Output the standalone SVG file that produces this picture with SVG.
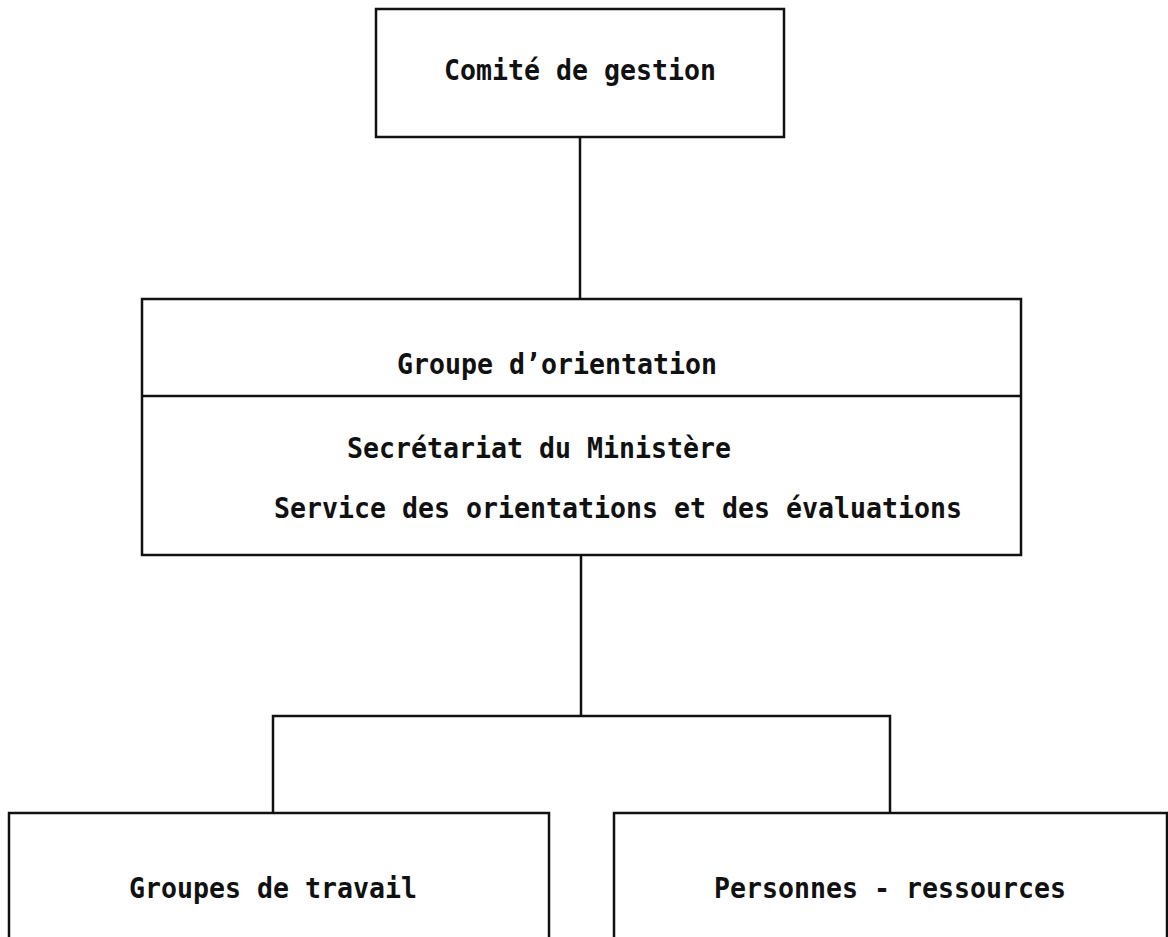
<svg xmlns="http://www.w3.org/2000/svg" width="1168" height="937" viewBox="0 0 1168 937">
<style>
.box{fill:none;stroke:#111;stroke-width:2.5}
.ln{fill:none;stroke:#111;stroke-width:2.5}
.t{font-family:"DejaVu Sans Mono","Liberation Mono",monospace;font-size:29px;font-weight:bold;fill:#111}
</style>
<rect width="1168" height="937" fill="#fff"/>
<g id="connectors">
<line class="ln" x1="580" y1="137" x2="580" y2="299"/>
<line class="ln" x1="581" y1="555" x2="581" y2="716"/>
<polyline class="ln" points="273,813 273,716 890,716 890,813"/>
</g>
<g id="comite">
<rect class="box" x="376" y="9" width="408" height="128"/>
<text class="t" x="444" y="80" textLength="272" lengthAdjust="spacingAndGlyphs">Comité de gestion</text>
</g>
<g id="groupe-orientation">
<rect class="box" x="142" y="299" width="879" height="256"/>
<line class="ln" x1="142" y1="396" x2="1021" y2="396"/>
<text class="t" x="397" y="374" textLength="320" lengthAdjust="spacingAndGlyphs">Groupe d’orientation</text>
<text class="t" x="347" y="458" textLength="384" lengthAdjust="spacingAndGlyphs">Secrétariat du Ministère</text>
<text class="t" x="274" y="518" textLength="688" lengthAdjust="spacingAndGlyphs">Service des orientations et des évaluations</text>
</g>
<g id="groupes-travail">
<rect class="box" x="9" y="813" width="540" height="140"/>
<text class="t" x="129" y="898" textLength="288" lengthAdjust="spacingAndGlyphs">Groupes de travail</text>
</g>
<g id="personnes-ressources">
<rect class="box" x="614" y="813" width="553" height="140"/>
<text class="t" x="714" y="898" textLength="352" lengthAdjust="spacingAndGlyphs">Personnes - ressources</text>
</g>
</svg>
